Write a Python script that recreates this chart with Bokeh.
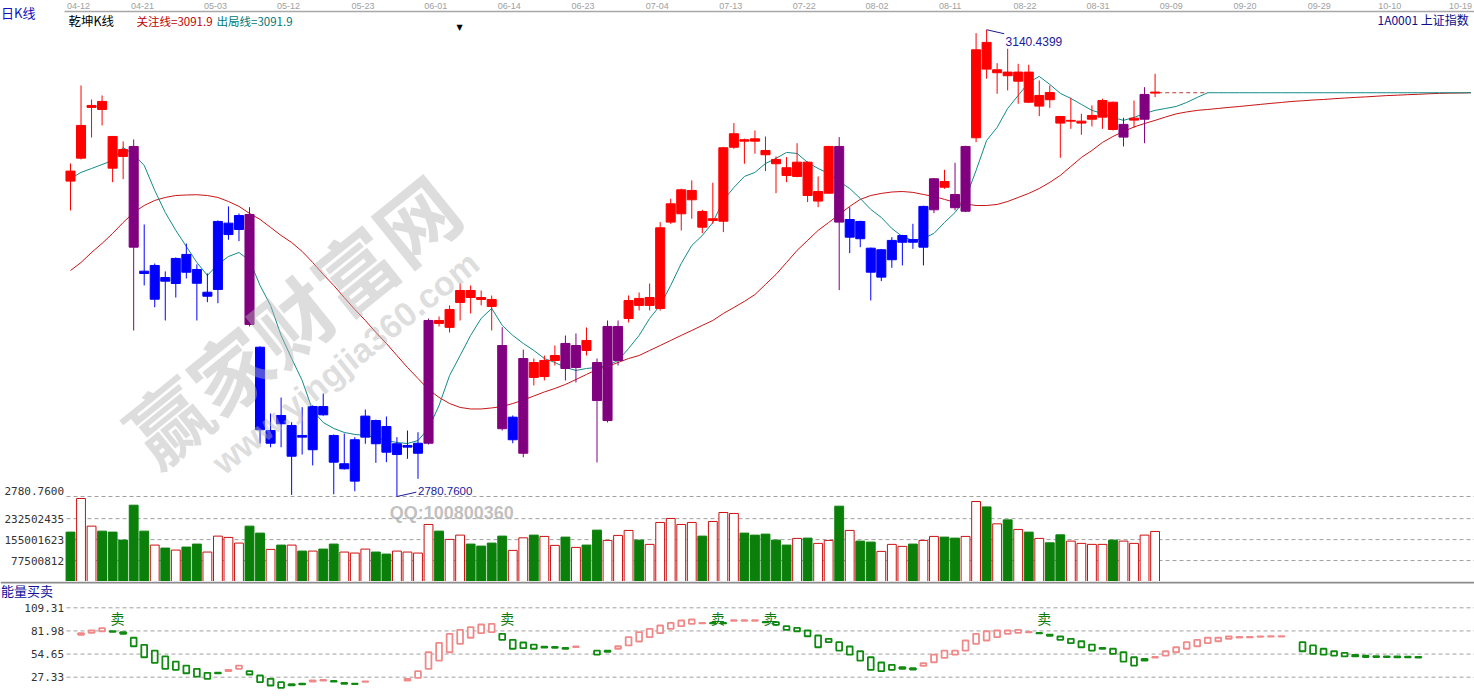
import math
from bokeh.plotting import figure
from bokeh.models import Range1d, Label, ColumnDataSource
from bokeh.layouts import column
from bokeh.embed import file_html
from bokeh.resources import INLINE
from bokeh.core.properties import value

# ---------------- data ----------------
date_labels = ["04-12", "04-21", "05-03", "05-12", "05-23", "06-01", "06-14", "06-23", "07-04", "07-13",
               "07-22", "08-02", "08-11", "08-22", "08-31", "09-09", "09-20", "09-29", "10-10", "10-19"]
# label centres on the bar-index scale (bar 0 = 04-12)
date_pos = [0.76, 6.84, 13.77, 20.70, 27.78, 34.69, 41.67, 48.67, 55.72, 62.70,
            69.68, 76.59, 83.54, 90.65, 97.58, 104.54, 111.54, 118.58, 125.28, 132.0]

open_ = [3031.5, 3041.5, 3080.6, 3085.2, 3058.2, 3048.2, 3050.5, 2954.4, 2932.8, 2949.5,
         2944.9, 2967.3, 2955.7, 2935.1, 2940.3, 2982.6, 2986.5, 2998.1, 2895.8, 2821.8,
         2843.2, 2811.8, 2827.8, 2816.8, 2850.1, 2827.8, 2802.1, 2792.6, 2826.5, 2839.3,
         2834.7, 2813.1, 2818.8, 2814.1, 2821.8, 2916.4, 2911.1, 2930.3, 2939.5, 2934.1,
         2932.6, 2897.1, 2824.5, 2814.1, 2884.0, 2873.2, 2885.6, 2898.7, 2880.2, 2901.0,
         2884.0, 2839.3, 2885.6, 2917.9, 2933.4, 2928.0, 2925.6, 2992.2, 2998.6, 3009.4,
         3000.4, 2993.5, 2992.9, 3049.9, 3055.7, 3056.4, 3047.4, 3040.5, 3034.1, 3027.4,
         3038.4, 3008.4, 3014.5, 3050.5, 2980.6, 2992.7, 2972.1, 2949.8, 2963.2, 2976.7,
         2978.8, 2972.9, 3001.7, 3023.5, 3013.5, 3000.6, 3057.2, 3130.7, 3107.3, 3107.8,
         3100.8, 3107.8, 3081.6, 3092.1, 3073.6, 3070.0, 3068.5, 3071.5, 3073.1, 3084.6,
         3057.7, 3070.8, 3071.5, 3091.6]
high = [3037.4, 3097.5, 3086.7, 3089.8, 3058.5, 3054.4, 3055.9, 2990.4, 2960.3, 2954.2,
        2965.0, 2975.7, 2959.6, 2952.6, 2993.5, 3004.3, 2998.9, 3003.7, 2896.5, 2844.7,
        2857.0, 2838.0, 2849.6, 2851.0, 2860.1, 2828.5, 2829.3, 2826.5, 2847.8, 2840.0,
        2842.4, 2826.5, 2831.6, 2830.3, 2917.9, 2919.5, 2928.0, 2944.9, 2943.4, 2939.5,
        2935.6, 2911.2, 2843.2, 2894.0, 2887.1, 2889.4, 2897.1, 2904.8, 2906.4, 2911.0,
        2887.1, 2916.4, 2916.4, 2935.7, 2938.0, 2944.9, 2992.2, 3010.2, 3018.0, 3024.3,
        3001.7, 3022.5, 3050.2, 3068.5, 3056.5, 3062.8, 3058.2, 3042.8, 3042.3, 3053.0,
        3039.0, 3027.4, 3051.0, 3057.7, 3003.7, 2993.3, 2972.6, 2971.4, 2980.6, 2982.4,
        2990.9, 3004.8, 3026.1, 3032.5, 3037.9, 3051.0, 3137.8, 3140.44, 3114.7, 3125.8,
        3114.2, 3113.5, 3101.4, 3097.5, 3074.0, 3088.0, 3075.7, 3082.1, 3087.3, 3085.0,
        3072.6, 3085.9, 3096.2, 3106.5]
low = [3001.2, 3040.5, 3057.4, 3066.7, 3023.0, 3025.3, 2908.7, 2943.4, 2926.6, 2916.4,
       2934.1, 2948.8, 2916.4, 2930.5, 2929.7, 2978.6, 2977.5, 2911.8, 2821.6, 2818.7,
       2818.7, 2782.0, 2813.1, 2804.7, 2843.0, 2782.5, 2801.5, 2784.8, 2821.4, 2806.7,
       2807.2, 2780.76, 2809.8, 2794.4, 2820.8, 2911.8, 2907.1, 2916.4, 2921.8, 2928.0,
       2908.7, 2831.6, 2821.8, 2811.0, 2866.3, 2870.2, 2881.7, 2870.2, 2868.6, 2889.4,
       2807.0, 2837.8, 2881.7, 2914.9, 2924.1, 2924.1, 2924.1, 2990.9, 2985.8, 2994.8,
       2983.7, 2990.9, 2984.5, 3048.7, 3037.2, 3044.9, 3031.5, 3014.5, 3023.0, 3026.8,
       3007.6, 3003.7, 3014.2, 2939.8, 2968.3, 2972.9, 2931.8, 2946.7, 2957.0, 2958.8,
       2971.6, 2958.8, 2999.1, 3017.9, 3001.2, 2999.9, 3053.8, 3102.7, 3091.1, 3093.7,
       3083.4, 3084.0, 3073.9, 3080.3, 3041.8, 3064.1, 3059.5, 3065.9, 3064.1, 3062.8,
       3050.5, 3064.9, 3053.0, 3088.5]
close = [3023.8, 3066.7, 3082.1, 3079.0, 3033.8, 3042.8, 2972.9, 2952.6, 2958.8, 2946.7,
         2964.2, 2953.6, 2945.1, 2938.2, 2992.7, 2991.4, 2997.3, 2913.3, 2832.2, 2831.6,
         2836.8, 2835.5, 2826.5, 2850.1, 2843.7, 2807.2, 2806.0, 2824.5, 2842.7, 2821.4,
         2814.9, 2821.4, 2820.1, 2821.8, 2916.4, 2914.1, 2924.9, 2939.5, 2934.1, 2932.6,
         2927.2, 2833.0, 2841.9, 2887.1, 2872.5, 2885.6, 2889.4, 2879.4, 2897.1, 2893.3,
         2854.7, 2911.8, 2911.8, 2931.8, 2928.0, 2934.1, 2987.8, 3006.3, 3017.1, 3016.6,
         2988.3, 2994.8, 3049.5, 3060.3, 3054.6, 3054.6, 3044.1, 3037.2, 3028.1, 3038.4,
         3012.7, 3015.8, 3050.5, 2992.2, 2994.2, 2979.4, 2953.6, 2970.9, 2978.1, 2981.9,
         2976.7, 3004.3, 3025.6, 3019.1, 3003.3, 3050.5, 3125.0, 3110.1, 3109.6, 3105.0,
         3107.8, 3084.6, 3089.8, 3086.5, 3068.5, 3070.6, 3070.0, 3074.4, 3085.9, 3063.6,
         3067.5, 3072.3, 3090.6, 3092.4]
# 乾坤K线 state: R = 多, B = 空, P = 转折
trend = list("RRRRRRPBBBBBBBBBBPBBBBBBBBBBBBBBBBPRRRRRRPBPRRRPPRPPP"
             "RRRRRRRRRRRRRRRRRRRRPBBBBBBBBPRPPRRRRRRRRRRRRRRPRPR")
volume = [182.7e6, 307.0e6, 204.8e6, 186.3e6, 182.7e6, 153.1e6, 282.3e6, 186.3e6, 134.7e6, 123.6e6,
          116.2e6, 127.3e6, 138.4e6, 108.9e6, 167.9e6, 163.1e6, 142.1e6, 204.8e6, 179.0e6, 118.8e6,
          134.7e6, 134.7e6, 112.5e6, 112.5e6, 119.9e6, 138.4e6, 108.9e6, 105.2e6, 119.9e6, 108.9e6,
          101.5e6, 112.5e6, 108.9e6, 105.2e6, 211.0e6, 186.3e6, 155.7e6, 171.6e6, 138.4e6, 131.0e6,
          142.1e6, 167.9e6, 115.1e6, 161.6e6, 171.6e6, 166.8e6, 133.6e6, 164.2e6, 126.2e6, 134.7e6,
          190.0e6, 152.0e6, 170.5e6, 188.9e6, 153.1e6, 137.3e6, 218.4e6, 233.2e6, 211.0e6, 218.4e6,
          167.9e6, 222.1e6, 255.3e6, 251.7e6, 179.0e6, 171.6e6, 175.3e6, 153.1e6, 134.7e6, 159.4e6,
          160.5e6, 141.0e6, 152.0e6, 278.6e6, 188.9e6, 149.4e6, 145.8e6, 111.4e6, 137.3e6, 129.9e6,
          138.4e6, 152.0e6, 166.8e6, 164.2e6, 160.5e6, 166.8e6, 296.0e6, 276.0e6, 213.3e6, 228.0e6,
          192.6e6, 182.7e6, 159.4e6, 143.2e6, 172.7e6, 149.4e6, 141.0e6, 137.3e6, 137.3e6, 153.1e6,
          149.4e6, 141.0e6, 171.6e6, 185.2e6]
exit_line = [3025.8, 3030.5, 3033.5, 3036.6, 3039.7, 3049.7, 3044.3, 3035.9, 3016.6, 2999.6,
             2985.8, 2973.4, 2961.1, 2951.1, 2959.6, 2965.7, 2968.8, 2962.7, 2943.4, 2928.0,
             2904.9, 2887.1, 2870.2, 2847.0, 2837.8, 2833.2, 2830.1, 2828.6, 2827.8, 2826.2,
             2823.9, 2822.4, 2821.6, 2823.9, 2833.2, 2850.9, 2874.0, 2889.4, 2904.9, 2918.0,
             2925.7, 2912.6, 2904.9, 2898.7, 2893.3, 2887.1, 2884.0, 2880.2, 2877.9, 2879.4,
             2880.2, 2881.7, 2885.6, 2894.8, 2904.9, 2918.0, 2928.0, 2943.4, 2960.3, 2974.2,
             2981.9, 2991.9, 3008.9, 3018.9, 3027.4, 3030.5, 3037.4, 3041.3, 3045.9, 3045.1,
             3038.2, 3033.5, 3029.7, 3023.5, 3018.1, 3010.4, 3002.0, 2995.8, 2987.3, 2981.1,
             2978.1, 2979.6, 2983.5, 2991.9, 2999.6, 3010.4, 3032.0, 3055.1, 3065.2, 3079.8,
             3089.8, 3099.8, 3104.5, 3098.3, 3091.4, 3087.5, 3082.9, 3078.3, 3075.9, 3072.9,
             3070.6, 3072.9, 3075.9, 3078.3, 3079.8, 3081.3, 3084.4, 3088.3, 3091.9, 3091.9,
             3091.9, 3091.9, 3091.9, 3091.9, 3091.9, 3091.9, 3091.9, 3091.9, 3091.9, 3091.9,
             3091.9, 3091.9, 3091.9, 3091.9, 3091.9, 3091.9, 3091.9, 3091.9, 3091.9, 3091.9,
             3091.9, 3091.9, 3091.9, 3091.9]
focus_line = [2954.9, 2961.1, 2968.8, 2975.8, 2983.5, 2991.9, 2999.6, 3005.0, 3008.9, 3011.2,
              3012.7, 3013.1, 3013.3, 3012.7, 3011.2, 3008.1, 3004.3, 2998.9, 2994.3, 2988.1,
              2981.9, 2976.5, 2969.6, 2961.1, 2951.9, 2943.4, 2934.1, 2924.9, 2916.4, 2907.2,
              2898.7, 2889.4, 2880.2, 2871.7, 2863.2, 2857.1, 2852.4, 2849.4, 2848.2, 2848.2,
              2849.0, 2850.1, 2852.4, 2855.1, 2858.2, 2861.3, 2864.0, 2867.1, 2870.9, 2874.8,
              2878.6, 2881.0, 2884.0, 2887.1, 2889.4, 2893.3, 2897.1, 2901.0, 2904.9, 2908.7,
              2912.6, 2916.4, 2921.8, 2926.4, 2931.1, 2936.4, 2944.2, 2951.9, 2961.1, 2970.4,
              2978.1, 2985.8, 2991.9, 2998.1, 3004.3, 3009.7, 3012.7, 3014.3, 3015.4, 3015.8,
              3015.1, 3013.5, 3012.0, 3009.7, 3007.4, 3006.2, 3005.0, 3005.0, 3005.8, 3008.1,
              3011.2, 3014.3, 3018.1, 3022.8, 3028.2, 3035.1, 3042.0, 3047.4, 3053.6, 3058.2,
              3062.1, 3065.5, 3068.2, 3070.6, 3073.2, 3075.6, 3077.1, 3078.3, 3079.0, 3079.8,
              3080.6, 3081.3, 3082.1, 3082.9, 3083.7, 3084.4, 3085.2, 3085.7, 3086.3, 3086.7,
              3087.3, 3087.8, 3088.3, 3088.7, 3089.2, 3089.7, 3090.0, 3090.4, 3090.7, 3091.1,
              3091.4, 3091.6, 3091.7, 3091.9]
focus_value = 3091.9
exit_value = 3091.9
hi_idx, hi_value = 87, 3140.4399
lo_idx, lo_value = 31, 2780.7600

N = None
ind_open = [N, 77.4, 79.8, 81.6, 81.6, 80.5, 73.9, 65.6, 58.8, 51.8,
            45.8, 41.1, 37.2, 32.5, 32.8, 34.4, 37.2, 34.4, 29.3, 25.4,
            21.4, 19.0, 19.8, 22.2, 23.4, 22.9, 20.7, 19.8, 21.8, N,
            N, N, 23.4, 26.6, 37.2, 47.0, 56.8, 66.8, 73.9, 79.3,
            80.5, 78.6, 71.5, 68.3, 65.9, 63.5, 63.1, 62.0, 63.0, N,
            58.8, 58.8, 60.9, 64.8, 69.5, 74.6, 79.3, 84.5, 87.6, 90.4,
            91.0, 91.5, 91.4, 94.0, 94.0, 94.0, 92.6, 92.3, 87.6, 85.7,
            82.5, 76.6, 72.7, 68.7, 63.6, 58.0, 50.9, 44.7, 41.9, 39.1,
            37.9, 40.8, 45.0, 50.2, 54.1, 58.8, 66.8, 70.7, 74.6, 78.6,
            79.8, 80.2, 79.6, 77.7, 75.4, 72.7, 69.8, 65.9, 62.0, 60.9,
            56.8, 50.9, 49.0, 50.5, 52.9, 56.8, 60.9, 63.9, 67.5, 69.8,
            72.7, 74.2, 74.4, 75.0, 75.2, 75.3, N, 68.7, 64.8, 60.9,
            58.0, 56.1, 53.8, 52.8, 52.2, 52.0, 51.8, 51.6, 51.4, N,
            N, N, N, N]
ind_close = [N, 79.3, 82.5, 85.2, 80.8, 78.6, 63.9, 50.9, 44.3, 37.2,
             36.0, 32.0, 28.1, 25.4, 32.0, 36.0, 41.1, 30.5, 21.4, 17.5,
             14.8, 17.8, 19.0, 23.4, 24.2, 22.2, 19.5, 19.2, 22.4, N,
             N, N, 25.4, 34.4, 56.8, 67.9, 78.6, 83.3, 86.4, 89.6,
             90.4, 71.5, 60.9, 61.6, 60.9, 62.2, 62.0, 60.9, 63.6, N,
             54.1, 57.4, 63.9, 74.6, 80.5, 84.5, 88.4, 91.6, 94.3, 95.5,
             91.6, 90.8, 90.8, 94.6, 94.6, 94.6, 92.0, 89.2, 83.3, 81.6,
             75.7, 62.7, 68.7, 58.8, 54.1, 47.0, 36.0, 34.4, 36.0, 37.2,
             36.4, 43.8, 54.1, 58.8, 58.8, 70.7, 78.6, 81.6, 82.5, 82.5,
             83.3, 80.8, 79.0, 76.2, 71.5, 67.5, 62.7, 58.8, 60.9, 54.9,
             45.8, 41.1, 47.0, 51.3, 58.0, 62.7, 68.7, 71.5, 73.9, 73.9,
             75.4, 74.8, 75.0, 75.6, 75.8, 75.9, N, 58.0, 54.9, 54.1,
             52.9, 51.8, 52.0, 51.2, 51.2, 51.0, 50.8, 50.7, 50.5, N,
             N, N, N, N]
sell_idx = [4, 41, 61, 66, 92]
sell_level = 97.5

vol_ticks = [77500812, 155001623, 232502435]
vol_top = 310003247
ind_ticks = [27.33, 54.65, 81.98, 109.31]
ind_tick_labels = ["27.33", "54.65", "81.98", "109.31"]

# ---------------- layout constants ----------------
W = 1474
STEP = 10.53                                # px per bar
XS = -70 / STEP                             # canvas left edge (bar 0 sits at x=70)
X1 = XS + W / STEP
X0 = XS + 66 / STEP                         # left edge of the plotting area
PX = 1 / STEP
PRICE_LO, PRICE_HI = 2780.76, 3154.5
H1, H2, H3 = 497, 84, 115
AX = 11                                     # top date strip (px)
PY = (PRICE_HI - PRICE_LO) / (H1 - AX - 1)
VPY = vol_top / (580.5 - 496.7)
IND_LO, IND_HI = 4.5, 140.4
IPY = (IND_HI - IND_LO) / H3
CJK = "Noto Sans CJK SC"
MONO = "DejaVu Sans Mono"
SANS = "Liberation Sans"
GRID = "#a0a0a0"

xr = Range1d(XS, X1)


def base_fig(h, yr):
    p = figure(width=W, height=h, x_range=xr, y_range=yr, output_backend="svg",
               toolbar_location=None, x_axis_location=None, y_axis_location=None,
               min_border_left=0, min_border_right=0, min_border_top=0, min_border_bottom=0,
               background_fill_color="white", border_fill_color="white")
    p.outline_line_color = None
    p.xgrid.visible = False
    p.ygrid.visible = False
    return p


def ylabel(p, y, txt):
    p.add_layout(Label(x=X0 - 2.5 * PX, y=y, text=txt, text_font=MONO, text_font_size="11px",
                       text_color="#333333", text_baseline="middle", text_align="right"))


# ---------------- main K-line panel ----------------
p1 = base_fig(H1, Range1d(PRICE_LO - 1 * PY, PRICE_HI + AX * PY))

# top date axis
p1.line([X0 - 2 * PX, X1], [PRICE_HI, PRICE_HI], line_color="#a8a8a8", line_width=1.5)
p1.text(x=date_pos, y=[PRICE_HI + 6 * PY] * len(date_pos), text=date_labels,
        text_font=value(SANS), text_font_size="9px", text_color="#a0a0a0",
        text_align="center", text_baseline="middle")
# bottom dashed boundary (price low line)
p1.line([X0, X1], [PRICE_LO, PRICE_LO], line_color=GRID, line_width=1, line_dash="4 3")

n = len(open_)
idx = list(range(n))
fidx = list(range(len(focus_line)))
p1.line(fidx, focus_line, line_color="#c81414", line_width=1)
p1.line(fidx, exit_line, line_color="#138a8a", line_width=1)
p1.line([n - 1 + 0.3, 108], [focus_value, focus_value], line_color="#b04040",
        line_width=1, line_dash="4 3")

cmap = {"R": "#ff0000", "B": "#0000ff", "P": "#800080"}
src = ColumnDataSource(dict(
    x=idx, h=high, l=low,
    top=[max(a, b) for a, b in zip(open_, close)],
    bot=[min(a, b) for a, b in zip(open_, close)],
    col=[cmap[t] for t in trend]))
p1.segment(x0="x", y0="h", x1="x", y1="l", line_color="col", line_width=1, source=src)
p1.vbar(x="x", top="top", bottom="bot", width=0.86, fill_color="col", line_color="col",
        line_width=1, source=src)

# extreme annotations
p1.line([hi_idx, hi_idx + 1.67], [hi_value, hi_value - 4 * PY], line_color="#1a1a9a", line_width=1)
p1.add_layout(Label(x=hi_idx + 1.8, y=hi_value - 11.4 * PY, text=f"{hi_value:.4f}",
                    text_font=SANS, text_font_size="12px",
                    text_color="#1a1a9a", text_baseline="middle"))
p1.line([lo_idx, lo_idx + 1.84], [lo_value, lo_value + 4.3 * PY], line_color="#1a1a9a", line_width=1)
p1.add_layout(Label(x=lo_idx + 2.0, y=lo_value + 6.0 * PY, text=f"{lo_value:.4f}",
                    text_font=SANS, text_font_size="11.5px",
                    text_color="#1a1a9a", text_baseline="middle"))

# headers
p1.add_layout(Label(x=XS + 0.5 * PX, y=PRICE_HI - 1 * PY, text="日K线", text_font=CJK,
                    text_font_size="13px", text_color="#1010c0", text_baseline="middle"))
p1.add_layout(Label(x=-0.19, y=PRICE_HI - 9 * PY, text="乾坤K线", text_font=CJK,
                    text_font_size="12.5px", text_color="#000000", text_baseline="middle"))
p1.add_layout(Label(x=6.27, y=PRICE_HI - 9 * PY, text=f"关注线={focus_value}", text_font=CJK,
                    text_font_size="11.5px", text_color="#c00000", text_baseline="middle"))
p1.add_layout(Label(x=13.87, y=PRICE_HI - 9 * PY, text=f"出局线={exit_value}", text_font=CJK,
                    text_font_size="11.5px", text_color="#007878", text_baseline="middle"))
p1.add_layout(Label(x=36.94, y=PRICE_HI - 16 * PY, text="▼", text_font="DejaVu Sans",
                    text_font_size="8px", text_color="#000000", text_baseline="middle",
                    text_align="center"))
p1.add_layout(Label(x=124.12, y=PRICE_HI - 8 * PY, text="1A0001  上证指数", text_font=CJK,
                    text_font_size="12px", text_color="#0c0c8c", text_baseline="middle"))
ylabel(p1, PRICE_LO + 6 * PY, f"{lo_value:.4f}")

# watermark
p1.add_layout(Label(x=20.9, y=2918.0, text="赢家财富网", text_font=CJK, text_font_size="80px",
                    text_font_style="bold", text_color="#b4b4b4", text_alpha=0.45,
                    angle=39, angle_units="deg", text_align="center", text_baseline="middle"))
p1.add_layout(Label(x=26.1, y=2884.0, text="www.yingjia360.com", text_font=SANS,
                    text_font_size="34px", text_font_style="bold", text_color="#b4b4b4",
                    text_alpha=0.45, angle=39, angle_units="deg", text_align="center",
                    text_baseline="middle"))

# ---------------- volume panel ----------------
p2 = base_fig(H2, Range1d(0, H2 * VPY))
p2.segment(x0=[X0] * len(vol_ticks), y0=vol_ticks, x1=[X1] * len(vol_ticks), y1=vol_ticks,
           line_color=GRID, line_width=1, line_dash="4 3")
for t in vol_ticks:
    ylabel(p2, t, str(t))
up = [c >= o for o, c in zip(open_, close)]
p2.vbar(x=idx, top=volume, bottom=0, width=0.84,
        fill_color=["#ffffff" if u else "#0a800a" for u in up],
        line_color=["#cc1010" if u else "#0a800a" for u in up], line_width=1)
p2.add_layout(Label(x=36.2, y=255e6, text="QQ:100800360", text_font=SANS,
                    text_font_size="18px", text_font_style="bold", text_color="#b0b0b0",
                    text_alpha=0.8, text_align="center", text_baseline="middle"))

# ---------------- 能量买卖 panel ----------------
p3 = base_fig(H3, Range1d(IND_LO, IND_HI))
p3.line([XS, X1], [IND_HI - 1.0 * IPY, IND_HI - 1.0 * IPY], line_color="#8c8c8c", line_width=2)
p3.segment(x0=[X0] * len(ind_ticks), y0=ind_ticks, x1=[X1] * len(ind_ticks), y1=ind_ticks,
           line_color=GRID, line_width=1, line_dash="4 3")
for t, s in zip(ind_ticks, ind_tick_labels):
    ylabel(p3, t, s)

ix, itop, ibot, icol = [], [], [], []
for i, (a, b) in enumerate(zip(ind_open, ind_close)):
    if a is None or b is None:
        continue
    ix.append(i)
    itop.append(max(a, b))
    ibot.append(min(a, b))
    icol.append("#f08a8a" if b >= a else "#108a10")
p3.vbar(x=ix, top=itop, bottom=ibot, width=0.55, fill_color="#ffffff",
        line_color=icol, line_width=1.8)
p3.text(x=sell_idx, y=[sell_level] * len(sell_idx), text=["卖"] * len(sell_idx),
        text_font=value(CJK), text_font_size="14px", text_color="#107a10",
        text_align="center", text_baseline="middle", x_offset=5)
p3.add_layout(Label(x=XS + 0.5 * PX, y=IND_HI - 9 * IPY, text="能量买卖", text_font=CJK,
                    text_font_size="13px", text_color="#10109a", text_baseline="middle"))

layout = column(p1, p2, p3, spacing=0)
open("out.html", "w").write(file_html(layout, INLINE))
